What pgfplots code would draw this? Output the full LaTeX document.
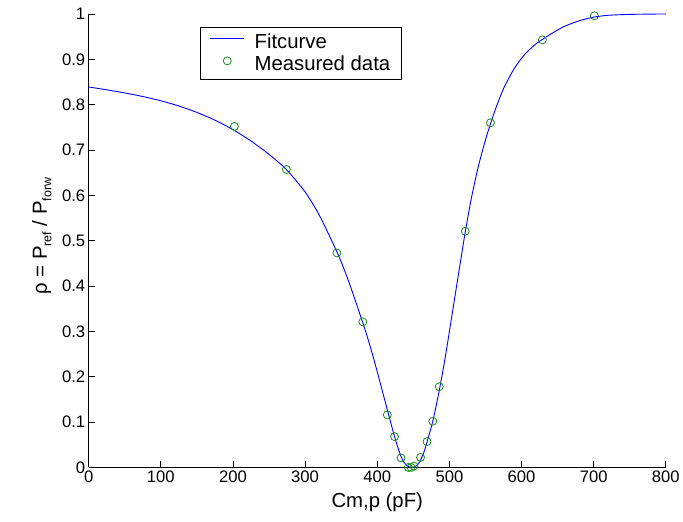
\documentclass[border=0pt]{standalone}
\usepackage{fontspec}
\setmainfont{Liberation Sans}
\usepackage{pgfplots}
\pgfplotsset{compat=1.18}
\definecolor{fitblue}{rgb}{0,0,1}
\definecolor{measgreen}{rgb}{0.1,0.55,0.1}
\newcommand{\tickfont}{\fontsize{16.7}{19}\selectfont}
\newcommand{\labfont}{\fontsize{20.4}{23}\selectfont}
\newcommand{\sub}[1]{\raisebox{-4.5pt}{\fontsize{12.5}{13}\selectfont #1}}
\pgfplotsset{
  fitleg/.style={legend image code/.code={\draw[##1] (0pt,0.35em) -- (34pt,0.35em);}},
  measleg/.style={legend image code/.code={\draw[mark repeat=2,mark phase=2,##1] plot coordinates {(0pt,0.35em) (17pt,0.35em) (34pt,0.35em)};}},
}

\begin{document}
\begin{tikzpicture}
\begin{axis}[
  scale only axis,
  width=579pt, height=455pt,
  xmin=0, xmax=800, ymin=0, ymax=1,
  axis lines*=left,
  axis line style={line width=0.8pt},
  xtick={0,100,...,800},
  ytick={0,0.1,0.2,0.3,0.4,0.5,0.6,0.7,0.8,0.9,1},
  tick align=inside,
  major tick length=6pt,
  tick style={line width=0.8pt, black},
  /pgf/number format/assume math mode=true,
  tick label style={font=\tickfont},
  xlabel={Cm,p (pF)},
  ylabel={ρ = P\sub{ref} / P\sub{forw}},
  every axis x label/.style={at={(rel axis cs:0.5,0)}, anchor=center, yshift=-35pt, font=\labfont},
  every axis y label/.style={at={(rel axis cs:0,0.51)}, anchor=center, xshift=-47pt, rotate=90, font=\labfont},
  legend style={at={(rel axis cs:0.192,0.972)}, anchor=north west,
    draw=black, line width=0.8pt, font=\labfont,
    inner xsep=10pt, inner ysep=6pt, row sep=4pt,
    nodes={inner sep=1pt},
    /tikz/every odd column/.append style={column sep=9pt}},
  legend cell align=left,
]
\addplot[color=fitblue, line width=0.9pt, smooth, tension=0.4, fitleg] coordinates {
  (0,0.839) (25,0.8327) (50,0.8258) (75,0.8179) (100,0.8085) (125,0.7970)
  (150,0.7829) (175,0.7657) (200,0.7449) (225,0.7199) (250,0.6903) (274,0.657)
  (300,0.6076) (320,0.5553) (345,0.4721) (360,0.412) (380,0.319) (390,0.268)
  (400,0.211) (410,0.151) (415,0.121) (420,0.091) (424,0.068) (428,0.047)
  (432,0.028) (436,0.014) (440,0.0055) (444,0.0012) (448,0.000) (452,0.0015)
  (456,0.006) (460,0.016) (465,0.035) (469,0.056) (477,0.102) (486,0.170)
  (495,0.250) (505,0.350) (515,0.450) (522,0.519) (530,0.590) (540,0.663)
  (550,0.722) (557,0.758) (565,0.795) (575,0.835) (590,0.880) (605,0.912)
  (620,0.934) (630,0.945) (645,0.960) (660,0.973) (680,0.985) (700,0.993)
  (720,0.997) (750,0.999) (800,1.000)
};
\addlegendentry{Fitcurve}
\addplot[only marks, mark=o, mark size=4pt, color=measgreen, line width=0.8pt, measleg] coordinates {
  (202,0.752) (274,0.657) (344,0.473) (380,0.321) (414,0.116) (424,0.068)
  (433,0.021) (443,0.000) (447,0.000) (451,0.003) (460,0.022) (469,0.057)
  (477,0.102) (486,0.178) (522,0.521) (557,0.760) (629,0.943) (701,0.996)
};
\addlegendentry{Measured data}
\end{axis}
\path ([shift={(-89pt,-54pt)}]current axis.south west) rectangle ([shift={(15pt,14pt)}]current axis.north east);
\end{tikzpicture}
\end{document}
